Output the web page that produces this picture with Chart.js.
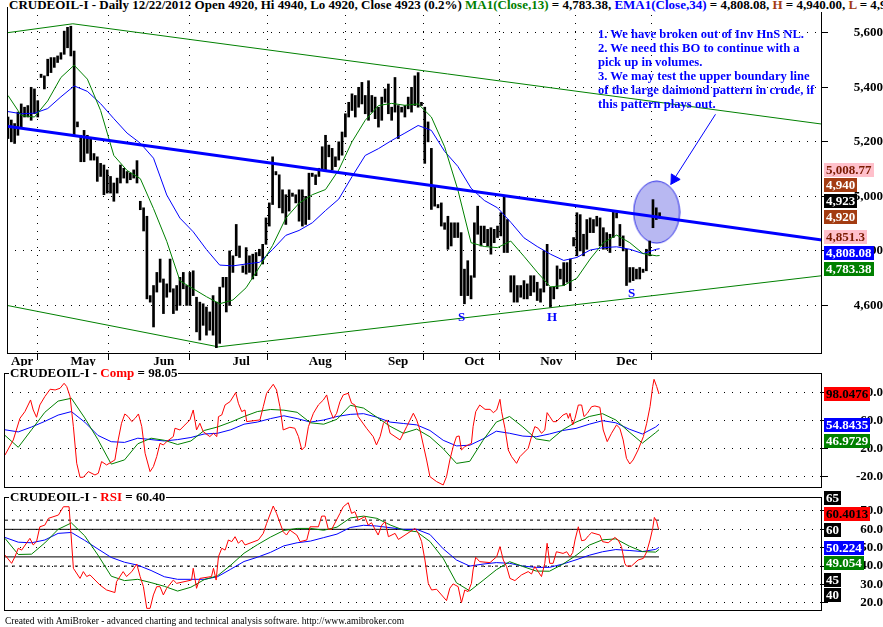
<!DOCTYPE html>
<html>
<head>
<meta charset="utf-8">
<script src="https://cdn.jsdelivr.net/npm/chart.js@4.4.0/dist/chart.umd.min.js"></script>
<style>
  html, body { margin: 0; padding: 0; background: #fff; }
  body { width: 883px; height: 627px; position: relative; overflow: hidden; font-family: 'Liberation Serif', 'Times New Roman', serif; }
  canvas { position: absolute; left: 0; }
  .txt { position: absolute; white-space: nowrap; font-weight: bold; font-size: 13px; line-height: 14px; }
  .ttl { background: #fff; padding: 0 1px; }
  .note { font-size: 12.6px; }
  .box { position: absolute; left: 824px; height: 14px; line-height: 14px; padding: 0 2px; font-weight: bold; font-size: 13px; white-space: nowrap; }
  .foot { position: absolute; left: 5px; top: 615px; font-size: 9.5px; line-height: 12px; white-space: nowrap; }
</style>
</head>
<body>
<canvas id="price" width="883" height="372" style="top:0"></canvas>
<canvas id="comp" width="883" height="126" style="top:367px"></canvas>
<canvas id="rsi" width="883" height="125" style="top:491px"></canvas>

<div class="txt ttl" style="left:8px;top:-2px">CRUDEOIL-I - Daily 12/22/2012 Open 4920, Hi 4940, Lo 4920, Close 4923 (0.2%) <span style="color:#008000">MA1(Close,13)</span> = 4,783.38, <span style="color:#0000ff">EMA1(Close,34)</span> = 4,808.08, <span style="color:#a33c12">H</span> = 4,940.00, <span style="color:#a33c12">L</span> = 4,920.00</div>
<div class="txt note" style="left:598px;top:27px;color:#0000ff">1. We have broken out of Inv HnS NL.<br>2. We need this BO to continue with a<br>pick up in volumes.<br>3. We may test the upper boundary line<br>of the large daimond pattern in crude, if<br>this pattern plays out.</div>
<div class="txt" style="left:458px;top:310px;color:#0000ff">S</div>
<div class="txt" style="left:547px;top:310px;color:#0000ff">H</div>
<div class="txt" style="left:628px;top:286px;color:#0000ff">S</div>

<div class="txt ttl" style="left:9px;top:366px">CRUDEOIL-I - <span style="color:#ff0000">Comp</span> = 98.05</div>
<div class="txt ttl" style="left:9px;top:490px">CRUDEOIL-I - <span style="color:#ff0000">RSI</span> = 60.40</div>

<div class="box" style="top:163px;background:#ffc0cb;color:#7a1a00">5,008.77</div>
<div class="box" style="top:178px;background:#a33c12;color:#fff">4,940</div>
<div class="box" style="top:194px;background:#000;color:#fff">4,923</div>
<div class="box" style="top:210px;background:#a33c12;color:#fff">4,920</div>
<div class="box" style="top:230px;background:#ffc0cb;color:#7a1a00">4,851.3</div>
<div class="box" style="top:246px;background:#0000ff;color:#fff">4,808.08</div>
<div class="box" style="top:262px;background:#008000;color:#fff">4,783.38</div>

<div class="box" style="top:387px;background:#ff0000;color:#000">98.0476</div>
<div class="box" style="top:418px;background:#0000ff;color:#fff">54.8435</div>
<div class="box" style="top:434px;background:#008000;color:#fff">46.9729</div>

<div class="box" style="top:491px;background:#000;color:#fff">65</div>
<div class="box" style="top:507px;background:#ff0000;color:#000">60.4013</div>
<div class="box" style="top:523px;background:#000;color:#fff">60</div>
<div class="box" style="top:541px;background:#0000ff;color:#fff">50.224</div>
<div class="box" style="top:556px;background:#008000;color:#fff">49.054</div>
<div class="box" style="top:573px;background:#000;color:#fff">45</div>
<div class="box" style="top:588px;background:#000;color:#fff">40</div>

<div class="foot">Created with AmiBroker - advanced charting and technical analysis software. http://www.amibroker.com</div>

<script>
// bar index 0 = first bar on the chart (mid April 2012)
const months = ['Apr', 'May', 'Jun', 'Jul', 'Aug', 'Sep', 'Oct', 'Nov', 'Dec'];
const monthStart = [0, 18, 43, 67, 90, 114, 137, 160, 183];

const highs = [
  5291,5280,5267,5309,5339,5327,5333,5400,5394,5351,5448,5442,5503,5509,5509,5515,5527,5606,5620,5624,
  5533,5273,5224,5242,5224,5212,5157,5145,5121,5115,5097,5073,5049,5067,5115,5103,5091,5085,5097,5131,
  4982,4958,4927,4636,4673,4721,4770,4697,4679,
  4770,4661,4673,4703,4721,4673,4721,4727,4630,4612,4606,4594,4576,4636,4612,4667,4703,4703,4800,4782,
  4897,4818,4745,4812,4782,4788,4794,4806,4824,4921,4976,5145,5091,5079,5024,5006,5024,5012,5006,5024,
  5024,5000,5085,5085,5079,5103,5182,5224,5188,5176,5145,
  5200,5236,5303,5345,5376,5370,5400,5418,5370,5424,5370,5364,5327,5364,5394,5412,5327,5436,5333,5327,
  5333,5364,5400,5442,5454,5345,5327,5273,5176,5036,4970,4976,4903,4927,4903,4903,4903,4867,4733,4764,
  4709,4903,4964,4891,4891,4879,4885,4879,4891,4940,
  5000,4915,4709,4709,4673,4673,4691,4679,4709,4709,4685,4661,4800,4824,4667,4667,4745,4733,4757,4757,
  4770,4849,4940,4933,4861,4915,4921,4915,4927,4921,4885,4867,4861,4946,4940,4897,4855,4806,4739,4739,
  4733,4739,4733,4806,4836,4988,4958,4940
];
const lows = [
  5212,5200,5194,5224,5254,5291,5291,5279,5303,5291,5436,5394,5442,5454,5473,5491,5503,5521,5545,5515,
  5224,5255,5127,5127,5158,5133,5133,5055,5073,5006,5012,5012,4982,5012,5049,5067,5049,5061,5067,5049,
  4951,4873,4624,4612,4521,4649,4685,4570,4630,
  4649,4570,4582,4600,4661,4600,4600,4636,4503,4473,4527,4491,4509,4491,4445,4461,4667,4576,4600,4721,
  4782,4776,4721,4715,4721,4697,4709,4782,4752,4824,4891,4970,5079,4958,4939,4897,4946,5000,4976,4909,
  4891,4897,4915,5073,5043,5073,5097,5097,5145,5097,5109,
  5133,5151,5218,5291,5315,5291,5327,5339,5303,5279,5309,5285,5254,5279,5345,5303,5279,5309,5212,5309,
  5291,5321,5309,5333,5327,5333,5121,5200,4952,4964,4958,4891,4879,4806,4818,4849,4849,4636,4606,4636,
  4624,4703,4861,4818,4830,4818,4788,4830,4849,4855,
  4794,4794,4649,4612,4612,4630,4624,4624,4636,4649,4618,4612,4649,4673,4594,4624,4661,4697,4673,4685,
  4654,4818,4782,4800,4782,4806,4867,4867,4891,4818,4806,4806,4794,4849,4921,4818,4800,4673,4685,4691,
  4697,4697,4721,4727,4782,4885,4915,4920
];

// smooth averages read every 4th bar (the last value sits on the last bar)
const SMOOTH_STEP = 4;
const ma13 = [5370,5297,5291,5350,5436,5481,5430,5315,5150,5095,5065,4955,4835,4690,4661,4632,4606,4620,4665,4740,
  4820,4920,4975,5006,5025,5097,5200,5279,5333,5341,5334,5339,5291,5182,5024,4830,4816,4812,4836,4780,
  4722,4668,4673,4700,4770,4830,4858,4830,4790,4782,4783];
const ema34 = [5311,5303,5305,5322,5365,5405,5385,5340,5285,5232,5195,5140,5005,4920,4870,4805,4748,4745,4752,4758,
  4805,4857,4875,4903,4948,4990,5072,5150,5175,5205,5232,5260,5242,5165,5110,5030,4985,4958,4905,4848,
  4816,4788,4765,4776,4803,4812,4815,4806,4790,4806,4808];
const compFast = [39,22,47,72,88,92,64,33,-2,4,27,35,32,26,31,46,51,58,66,73,
  76,75,72,57,55,62,82,78,65,52,42,48,37,20,-1,2,32,58,66,51,
  34,31,47,58,66,70,61,44,28,43,47];
const compSlow = [47,44,51,59,68,73,58,39,30,29,35,33,31,33,36,41,42,47,55,58,
  63,67,63,58,61,66,69,70,65,58,56,54,46,32,24,25,34,45,42,38,
  37,41,46,49,55,60,57,48,41,51,55];
const rsiFast = [55.1,46.3,46.5,52.6,60,63.5,56.5,46,34.5,32.1,32.8,31,29,26.4,28.5,32.6,34.7,40.5,47,51.6,
  55.8,59.4,60.5,60.5,59.5,61.2,66.2,67.2,66,62.4,59.6,58.7,53.4,44.2,30.9,26.5,32.2,38,42.4,39.8,
  37.3,37.2,41,45.8,51.4,54.3,54.8,50.9,47.9,47.6,49.05];
const rsiSlow = [55.6,53,52.7,54.2,57.8,58.3,54,49.3,44.7,42.1,40.5,37.6,34.2,32.8,32.8,32.8,34.2,38.3,42.5,44.8,
  47.5,51,52.7,53.6,55.5,57.4,61,62.2,61.8,60.9,60,60,57.2,49.4,43.3,40,41.1,41.9,41.5,40,
  39.3,39.3,41.1,43.4,45.9,47.8,49,48.5,47.9,49.1,50.2];

// jagged oscillators read at their turning points: [bar index, value]
const comp = [[0,11],[2.5,32.5],[4.5,63.4],[6,73],[7.7,89.6],[8.5,75.3],[9.5,64.9],[10.5,82.5],[12,94.4],[13.6,104.9],
  [15.1,103.9],[16.6,106.3],[17.8,113.4],[18.6,108.7],[19.6,94.4],[20.6,51.5],[21.6,-0.8],[22.6,-20.8],[23.6,-20.8],[25.1,-12.7],
  [27.1,-17.5],[28.1,-15.1],[29.1,1.6],[30.6,-3.2],[33.1,3.9],[34.1,32.5],[35.1,56.3],[36.1,69.6],[37.1,65.8],[38.2,58.7],
  [39.2,63.4],[40.2,69.6],[41.2,51.5],[42.2,13.5],[43.7,-12.7],[44.7,-5.6],[45.7,8.7],[46.7,27.7],[47.7,25.3],[48.7,30.1],
  [50.7,37.3],[51.2,49.2],[52.7,46.8],[54.2,53.9],[55.7,61.1],[56.7,75.3],[57.7,46.8],[58.7,56.3],[59.7,44.4],[61.7,37.3],
  [62.8,42],[63.8,37.3],[64.3,65.8],[65.3,68.2],[66.3,82.5],[67.8,87.2],[69.5,100.1],[70.3,84.9],[71.3,73],[72.3,75.3],
  [72.8,58.7],[76.8,61.1],[77.8,80.1],[78.8,99.1],[80.8,112],[81.8,103.9],[82.8,80.1],[83.8,46.8],[85.8,50.6],[87.3,49.2],
  [88.4,37.3],[89.4,18.2],[90.4,23],[91.4,51.5],[92.9,70.6],[94.4,82.5],[95.9,89.6],[96.9,96.8],[97.9,75.3],[98.9,63.4],
  [99.9,70.6],[100.9,87.2],[101.9,96.8],[103.4,99.1],[104.4,84.9],[105.4,82.5],[106.4,65.8],[108.9,49.2],[110.9,37.3],[111.9,25.4],
  [113,37.3],[114,56.3],[115,61.1],[116,42],[119,32.5],[121,51.5],[123,70.6],[124,61.1],[125,46.8],[127,3.9],
  [128,-19.9],[130,-27],[132,-31.8],[133,-19.9],[134,3.9],[135,22.9],[136,37.2],[136.8,38.2],[137.5,18.2],[138.5,22.9],
  [140.5,27.7],[141,51.5],[141.8,72.9],[143,82.4],[144.6,76.2],[146.1,76.2],[147.1,71.5],[148.1,75.3],[149.1,90.5],[149.6,72.9],
  [150.6,49.1],[151.6,18.2],[152.6,8.6],[154.1,-0.9],[155.1,8.6],[157.6,20.5],[158.6,37.2],[159.6,51.5],[160.6,49.1],[161.6,42],
  [162.6,46.7],[163.3,71.5],[164.1,65.8],[165.1,58.6],[166.1,58.6],[168.1,68.1],[169.2,70.5],[169.7,63.4],[170.2,70.5],[171,53.9],
  [171.7,63.4],[172.7,82.4],[173.7,82.4],[174.4,65.8],[175.4,70.5],[176.7,80],[177.7,81],[179.2,79.1],[180.2,46.7],[181.4,30.1],
  [182.7,42],[184.2,53.9],[185.2,49.2],[186.2,32.5],[187.2,6.3],[188.2,-1.8],[189.2,3.9],[190.7,18.2],[192.3,37.3],[193.3,56.3],
  [194.3,80.1],[195.1,108.7],[195.5,119.1],[196.3,108.7],[197,98.05]];
const rsi = [[0,46],[2,41.5],[3,45.1],[4,49.7],[5,48.7],[7.5,55.1],[8.5,51.5],[9.5,53.3],[10.5,61.4],[12,62.3],
  [13.1,66],[16.1,67.8],[17.6,72.3],[19.3,72.3],[19.8,59.6],[20.6,38.8],[22.6,33.3],[23.6,37],[24.6,34.3],[25.6,35.2],
  [28.6,29.7],[30.6,27],[33.1,25.6],[33.6,31.5],[35.6,37],[36.6,34.3],[38.2,37],[39.7,41.1],[40.7,34.3],[41.7,28.8],
  [42.7,17],[43.7,17],[44.7,24.3],[45.7,28.8],[46.7,28.8],[47.7,24.3],[48.7,27.9],[50.7,32.4],[51.7,30.6],[56.2,32.4],
  [56.7,38.8],[57.7,27.9],[58.7,33.3],[62.2,34.3],[62.8,38.8],[63.6,32.4],[64.3,45.1],[65.3,49.7],[66.3,48.7],[67.3,54.2],
  [68.3,53.3],[69.3,56],[70.3,52.4],[71.3,54.2],[72.3,51.5],[76.3,54.2],[77.8,57.8],[78.8,63.2],[80.8,72.7],[81.8,68.7],
  [83.8,58.7],[84.8,56.9],[85.8,59.6],[87.9,56.9],[88.9,53.3],[90.9,54.2],[91.9,61.4],[94.4,61.4],[95.4,67.2],[96.4,67.2],
  [97.4,60],[98.4,60],[100.9,68.7],[101.9,72.3],[103.4,74.5],[104.4,68.7],[105.4,69.6],[106.4,65],[108.4,66.9],[109.4,62.3],
  [110.4,63.6],[112.4,56.9],[113.5,62.3],[114.5,64.2],[115.5,56],[117.5,57.8],[118.5,54.5],[120.5,56.9],[123.5,60.5],[124.5,57.8],
  [125.5,53.3],[126.5,43.3],[127.5,30.6],[128.5,27],[130,27.4],[131.5,24.3],[133,21.2],[134,28],[135,30.3],[136.5,28.8],
  [137.5,20.1],[138.5,27],[139.5,26.1],[140.5,30.6],[141,37.9],[141.8,44.8],[143,42.4],[146.1,41.9],[148.1,45.1],[149.1,50.6],
  [150.1,43.3],[151.1,39.7],[152.1,33.3],[153.6,32.1],[155.6,35.2],[157.6,37],[158.6,35.7],[159.6,39.7],[161.6,34.3],[162.6,41.5],
  [163.3,52.4],[164.1,41.5],[165.1,41.5],[166.1,47.8],[168.1,46.9],[169.2,47.8],[170.2,45.1],[171,47.3],[171.7,54.2],[172.7,61.4],
  [173.7,53.8],[174.7,54.2],[175.7,56.4],[176.7,58.2],[179.2,56.9],[180,53.3],[181.7,52.7],[183.7,55.6],[184.7,54.2],[185.7,50.6],
  [186.7,41.5],[187.2,40],[188.7,40],[190.7,43.3],[192.3,44.2],[193.3,47.8],[194.3,54.2],[195.1,60.5],[195.6,66.5],[196.3,64.2],
  [196.8,60.5],[197,60.4]];

// hand-drawn trendlines and markup, in [bar index, price]
const upperRim = [[-0.3, 5600], [19.6, 5633], [246.1, 5265]];
const lowerRim = [[-0.3, 4600], [63.6, 4448], [246.1, 4709]];
const neckline = [[-0.3, 5257], [246.1, 4840]];
const arrowShaft = [[213.9, 5301], [200.3, 5043]];
const arrowTip = [[201.4, 5063]];
const circleAt = [[196.1, 4942]];

const rsiDashed = [65, 40];
const rsiSolid = [60, 45];

const priceTicks = [4600, 4800, 5000, 5200, 5400, 5600];
const compTicks = [-20, 0, 20, 40, 60, 80, 100, 120];
const rsiTicks = [20, 30, 40, 50, 60, 70];

const X_MIN = -0.3, X_MAX = 246.1;
const LAST = highs.length - 1;
const serif = 'Liberation Serif';
const axisFont = { family: serif, size: 13, weight: 'bold' };

const pairs = list => list.map(p => ({ x: p[0], y: p[1] }));
const stepped = vals => vals.map((v, k) => ({ x: Math.min(k * SMOOTH_STEP, LAST), y: v }));
const line = (data, color, width, order, extra) => Object.assign({
  type: 'line', data, borderColor: color, borderWidth: width, pointRadius: 0, tension: 0, fill: false, order
}, extra || {});
const level = (v, dash) => line([{ x: 0, y: v }, { x: LAST, y: v }], '#000', 1, 3, { borderDash: dash });

const framePlugin = {
  id: 'frame',
  afterDraw(chart) {
    const { ctx, chartArea: a } = chart;
    ctx.save();
    ctx.strokeStyle = '#000';
    ctx.lineWidth = 1;
    ctx.strokeRect(a.left + 0.5, a.top + 0.5, a.right - a.left - 1, a.bottom - a.top);
    ctx.restore();
  }
};

// fixed-size axes; the label padding must not eat into the plot area
function yAxis(min, max, ticks, fmt, pad) {
  return {
    type: 'linear', position: 'right', min, max,
    afterBuildTicks: s => { s.ticks = ticks.map(v => ({ value: v })); },
    afterFit: s => { s.width = 61; s.paddingTop = 0; s.paddingBottom = 0; },
    border: { display: false, dash: [1, 7] },
    grid: { color: '#000', lineWidth: 1, tickLength: 6, tickColor: '#000', tickBorderDash: [] },
    ticks: { color: '#000', font: axisFont, padding: pad, crossAlign: 'far', callback: fmt }
  };
}
const hiddenX = { type: 'linear', min: X_MIN, max: X_MAX, display: false, offset: false };

function makeChart(id, datasets, scales, padding) {
  return new Chart(document.getElementById(id), {
    type: 'line',
    data: { datasets },
    options: {
      responsive: false, animation: false, devicePixelRatio: 1, events: [],
      layout: { padding },
      plugins: { legend: { display: false }, tooltip: { enabled: false } },
      scales
    },
    plugins: [framePlugin]
  });
}

// the shaded oval around the breakout bars
const oval = document.createElement('canvas');
oval.width = 48; oval.height = 64;
const o = oval.getContext('2d');
o.beginPath();
o.ellipse(24, 32, 23, 31, 0, 0, Math.PI * 2);
o.fillStyle = '#b8b8f2';
o.fill();
o.strokeStyle = '#2a2ae6';
o.lineWidth = 1;
o.stroke();

makeChart('price', [
  line(pairs(neckline), '#0000ff', 3, 0),
  line(pairs(arrowShaft), '#0000ff', 1, 0),
  { type: 'scatter', data: pairs(arrowTip), pointStyle: 'triangle', pointRadius: 6, pointRotation: 212,
    backgroundColor: '#0000ff', borderColor: '#0000ff', borderWidth: 1, order: 0 },
  line(stepped(ma13), '#008000', 1, 1),
  line(stepped(ema34), '#0000ff', 1, 1),
  { type: 'bar', data: highs.map((h, i) => ({ x: i, y: [lows[i], h] })), backgroundColor: '#000',
    barThickness: 2, order: 2 },
  line(pairs(upperRim), '#008000', 1, 3),
  line(pairs(lowerRim), '#008000', 1, 3),
  { type: 'scatter', data: pairs(circleAt), pointStyle: oval, order: 9 }
], {
  x: {
    type: 'linear', min: X_MIN, max: X_MAX, offset: false,
    afterBuildTicks: s => { s.ticks = monthStart.map(v => ({ value: v })); },
    afterFit: s => { s.height = 19; s.paddingLeft = 0; s.paddingRight = 0; },
    border: { display: false, dash: [1, 7] },
    grid: { color: '#000', tickLength: 7, tickColor: '#000', tickBorderDash: [] },
    ticks: { color: '#000', font: axisFont, align: 'start', padding: -6, labelOffset: 3,
      maxRotation: 0, autoSkip: false, callback: (v, i) => months[i] }
  },
  y: yAxis(4425.5, 5694.5, priceTicks, v => v.toLocaleString('en-US'), 22)
}, { left: 4, top: 4, right: 0, bottom: 0 });

makeChart('comp', [
  line(pairs(comp), '#ff0000', 1, 0),
  line(stepped(compFast), '#008000', 1, 1),
  line(stepped(compSlow), '#0000ff', 1, 2)
], {
  x: hiddenX,
  y: yAxis(-34.7, 128.1, compTicks, v => v.toFixed(1), 22)
}, { left: 4, top: 6, right: 0, bottom: 6 });

makeChart('rsi', [
  line(pairs(rsi), '#ff0000', 1, 0),
  line(stepped(rsiFast), '#008000', 1, 1),
  line(stepped(rsiSlow), '#0000ff', 1, 2),
  ...rsiDashed.map(v => level(v, [3, 4])),
  ...rsiSolid.map(v => level(v, []))
], {
  x: hiddenX,
  y: yAxis(16.1, 77.6, rsiTicks, v => v.toFixed(1), 29)
}, { left: 4, top: 6, right: 0, bottom: 6 });
</script>
</body>
</html>
